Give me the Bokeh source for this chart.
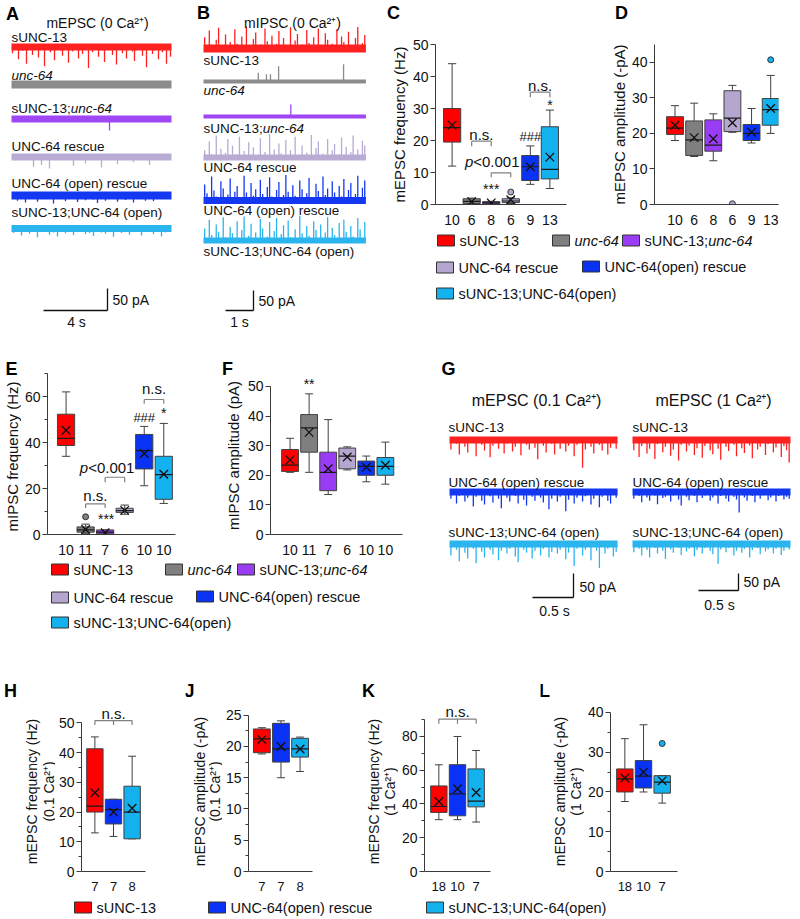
import numpy as np
from bokeh.plotting import figure
from bokeh.layouts import row, column
from bokeh.models import Range1d, FixedTicker, Label
from bokeh.embed import file_html
from bokeh.resources import INLINE

FONT = "Liberation Sans"
AX = "#3a3a3a"
EDGE = "#404040"

# ---------------- colours ----------------
RED, GRAY, PURPLE, LAVENDER, BLUE, CYAN = "#FF0000", "#7F7F7F", "#9B3CF5", "#B4A6CF", "#0A32F5", "#13B1EE"
T_RED, T_GRAY, T_PURPLE, T_LAV, T_BLUE, T_CYAN = "#FF2020", "#8C8C8C", "#A047F5", "#B8ABD4", "#1438F2", "#2BB5EE"
COLS6 = [RED, GRAY, PURPLE, LAVENDER, BLUE, CYAN]
COLS3 = [RED, BLUE, CYAN]

# ---------------- trace data (event amplitudes in pA, one value per time bin; 0 = no event) ----------------
A_SUNC13 = [14, 0, 5, 28, 0, 9, 0, 38, 4, 0, 18, 0, 7, 24, 0, 0, 44, 6, 0, 12, 0, 30, 3, 0, 8, 20, 0, 5, 36, 0,
            10, 0, 4, 26, 0, 16, 0, 6, 48, 0, 12, 3, 0, 22, 0, 8, 34, 0, 5, 0, 18, 0, 40, 7, 0, 14, 0, 26, 4, 0,
            10, 32, 0, 6, 0, 20, 0, 46, 3, 0, 16, 8, 0, 28, 0, 12, 0, 38, 5, 22]
A_UNC64 = [0, 3, 0, 5, 0, 0, 4, 0, 2, 0, 6, 0, 0, 3, 0, 0, 5, 0, 0, 4, 0, 7, 0, 0, 3, 0, 0, 5, 0, 2, 0, 0, 4, 0, 6, 0, 0, 3, 0, 0]
A_SUNC13_UNC64 = [0, 4, 0, 0, 6, 0, 3, 0, 0, 5, 0, 0, 4, 0, 7, 0, 0, 3, 0, 5, 0, 0, 4, 0, 26, 0, 0, 5, 0, 3, 0, 0, 6, 0, 0, 4, 0, 3, 0, 0]
A_RESCUE = [0, 3, 0, 0, 4, 22, 0, 18, 0, 26, 0, 4, 0, 0, 3, 20, 0, 0, 14, 0, 3, 0, 24, 0, 0, 4, 16, 0, 0, 3, 12, 0, 0, 4, 18, 0, 0, 3, 0, 5]
A_OPEN = [6, 12, 4, 16, 0, 3, 14, 7, 0, 5, 18, 6, 0, 13, 4, 8, 15, 0, 11, 3, 9, 17, 0, 12, 7, 4, 14, 0, 10, 6, 16, 5, 0, 12, 4, 13, 7, 0, 5, 8]
A_SUNC13_OPEN = [10, 4, 16, 0, 12, 3, 20, 8, 0, 14, 9, 18, 0, 11, 6, 15, 0, 3, 13, 10, 17, 0, 9, 12, 4, 19, 0, 10, 6, 14, 3, 0, 16, 5, 8, 13, 0, 18, 9, 4]

B_SUNC13 = [28, 0, 45, 10, 0, 22, 52, 0, 8, 35, 0, 16, 0, 48, 12, 0, 30, 0, 55, 6, 0, 24, 40, 0, 10, 0, 50, 18, 0, 32,
            0, 12, 44, 0, 26, 8, 0, 53, 0, 20, 36, 0, 10, 0, 46, 14, 0, 28, 0, 50, 6, 0, 38, 22, 0, 12, 0, 48, 0, 30,
            16, 0, 42, 8, 0, 26, 54, 0, 14, 34]
B_UNC64 = [0, 0, 2, 0, 0, 0, 0, 2, 0, 0, 0, 0, 0, 22, 0, 18, 18, 0, 38, 0, 0, 0, 2, 0, 0, 0, 0, 0, 0, 2, 0, 0, 0, 0, 43, 0, 0, 0, 0, 0]
B_SUNC13_UNC64 = [0, 0, 0, 2, 0, 0, 0, 0, 0, 0, 2, 0, 0, 0, 0, 0, 0, 0, 0, 0, 0, 30, 0, 0, 0, 0, 2, 0, 0, 0, 0, 0, 0, 0, 2, 0, 0, 0, 0, 0]
B_RESCUE = [18, 0, 40, 8, 0, 55, 0, 22, 0, 12, 46, 0, 30, 0, 8, 52, 0, 16, 0, 38, 0, 25, 6, 0, 48, 0, 14, 0, 58, 0,
            20, 0, 35, 10, 0, 44, 0, 18, 0, 52, 6, 0, 30, 0, 12, 0, 56, 0, 24, 40, 0, 10, 0, 46, 0, 18, 34, 0, 8, 50,
            0, 26, 0, 14, 55, 0, 20, 0, 42, 30]
B_OPEN = [40, 18, 0, 60, 25, 10, 0, 48, 30, 0, 15, 55, 0, 22, 36, 8, 0, 62, 20, 0, 44, 12, 28, 0, 52, 16, 0, 34, 58, 10,
          0, 26, 46, 0, 14, 64, 22, 0, 38, 12, 0, 50, 28, 0, 18, 56, 8, 0, 42, 24, 0, 60, 14, 30, 0, 48, 20, 0, 36, 10,
          54, 0, 26, 44, 0, 16, 62, 0, 32, 50]
B_SUNC13_OPEN = [30, 0, 52, 14, 0, 40, 22, 0, 58, 8, 0, 34, 18, 0, 48, 0, 26, 60, 0, 12, 42, 0, 20, 0, 54, 30, 0, 10, 46, 0,
                 24, 56, 0, 16, 38, 0, 50, 8, 0, 28, 0, 62, 18, 0, 36, 12, 0, 48, 26, 0, 40, 0, 20, 58, 0, 32, 14, 0, 44, 0,
                 52, 22, 0, 36, 10, 0, 56, 28, 0, 46]

GL_SUNC13 = [20, 0, 8, 30, 0, 14, 26, 0, 6, 34, 0, 10, 22, 0, 36, 12, 0, 18, 0, 28, 8, 0, 24, 14, 0, 32, 0, 10, 20, 0,
             16, 40, 0, 12, 26, 0, 8, 30, 0, 18, 0, 24, 12, 0, 34, 10, 0, 58, 20, 0, 14, 28, 0, 10, 22, 0, 30, 16, 0, 18]
GL_OPEN = [14, 0, 24, 8, 0, 20, 12, 0, 30, 10, 0, 18, 26, 0, 9, 22, 0, 14, 34, 0, 12, 20, 0, 8, 24, 0, 16, 28, 0, 10,
           18, 0, 12, 22, 0, 36, 14, 0, 20, 10, 0, 40, 16, 0, 24, 12, 0, 20, 9, 0, 26, 14, 0, 32, 10, 0, 18, 24, 0, 12]
GL_SUNC13_OPEN = [24, 0, 12, 36, 0, 18, 30, 0, 10, 40, 0, 16, 28, 0, 12, 22, 0, 34, 14, 0, 20, 10, 0, 26, 38, 0, 12, 18, 0, 30,
                  14, 0, 24, 10, 0, 28, 16, 0, 20, 12, 0, 32, 18, 0, 46, 10, 0, 24, 12, 0, 34, 0, 14, 50, 0, 20, 10, 0, 26, 16]
GR_SUNC13 = [30, 0, 50, 18, 0, 40, 26, 0, 56, 12, 0, 36, 20, 0, 46, 28, 0, 60, 14, 0, 34, 16, 0, 44, 24, 0, 52, 18, 0, 30,
             42, 0, 26, 58, 0, 20, 32, 0, 14, 48, 0, 24, 38, 0, 16, 54, 0, 28, 20, 0, 44, 12, 0, 36, 22, 0, 50, 18, 30, 66]
GR_OPEN = [20, 0, 12, 30, 0, 16, 26, 0, 10, 36, 0, 18, 14, 0, 28, 10, 0, 22, 40, 0, 14, 24, 0, 12, 30, 0, 18, 10, 0, 26,
           16, 0, 34, 12, 0, 20, 28, 0, 14, 22, 60, 0, 16, 26, 0, 12, 30, 0, 20, 10, 0, 24, 16, 0, 28, 12, 0, 22, 14, 20]
GR_SUNC13_OPEN = [24, 0, 14, 34, 0, 18, 40, 0, 12, 28, 0, 20, 44, 0, 16, 26, 0, 12, 32, 0, 22, 14, 0, 36, 18, 0, 28, 12, 0, 20,
                  30, 0, 58, 16, 0, 24, 12, 0, 34, 20, 0, 26, 14, 0, 40, 18, 0, 12, 30, 0, 22, 16, 0, 28, 14, 0, 32, 20, 0, 16]

# ---------------- box-plot data ----------------
C_N = ["10", "6", "8", "6", "9", "13"]
C_Q1 = [19.5, 0.3, 0.2, 0.6, 7.5, 8.0]
C_MED = [24.0, 1.0, 0.5, 1.1, 11.8, 11.0]
C_Q3 = [30.0, 1.8, 0.9, 1.8, 15.3, 24.3]
C_LO = [12.0, 0.0, 0.0, 0.3, 6.3, 5.0]
C_HI = [44.0, 2.0, 1.0, 2.1, 18.3, 29.5]
C_MEAN = [24.8, 0.9, 0.5, 1.5, 11.8, 14.8]
C_OUT_X, C_OUT_Y = [4], [3.9]

D_N = ["10", "6", "8", "6", "9", "13"]
D_Q1 = [19.7, 13.8, 15.0, 20.5, 18.0, 22.3]
D_MED = [21.5, 18.2, 16.7, 24.3, 20.0, 26.7]
D_Q3 = [24.7, 23.5, 23.8, 32.0, 22.5, 29.8]
D_LO = [18.0, 13.5, 12.3, 20.3, 17.3, 20.0]
D_HI = [27.8, 28.5, 25.5, 33.5, 27.0, 36.3]
D_MEAN = [22.3, 18.8, 18.5, 23.0, 20.3, 27.0]
D_OUT_X, D_OUT_Y = [4, 6], [0.2, 40.7]

E_N = ["10", "11", "7", "6", "10", "10"]
E_Q1 = [38.7, 1.0, 0.3, 9.6, 28.5, 15.3]
E_MED = [41.8, 2.0, 1.0, 10.4, 36.5, 26.0]
E_Q3 = [52.3, 3.3, 2.0, 11.4, 43.5, 34.0]
E_LO = [34.0, 0.5, 0.0, 8.8, 21.2, 13.5]
E_HI = [62.0, 4.5, 2.0, 12.8, 47.0, 48.3]
E_MEAN = [45.3, 2.2, 0.8, 10.5, 35.2, 26.2]
E_OUT_X, E_OUT_Y = [2], [7.7]

F_N = ["10", "11", "7", "6", "10", "10"]
F_Q1 = [21.3, 27.8, 14.8, 22.2, 20.0, 20.0]
F_MED = [23.4, 36.0, 21.0, 26.5, 23.0, 23.0]
F_Q3 = [28.7, 40.5, 27.8, 29.2, 24.8, 26.0]
F_LO = [21.0, 21.0, 13.5, 21.8, 17.8, 17.0]
F_HI = [32.5, 47.5, 38.8, 29.6, 26.5, 31.2]
F_MEAN = [25.2, 34.5, 22.2, 26.2, 22.7, 23.4]

H_N = ["7", "7", "8"]
H_Q1 = [20.0, 16.0, 11.0]
H_MED = [22.0, 20.8, 20.0]
H_Q3 = [41.3, 24.3, 28.7]
H_LO = [13.0, 11.8, 11.0]
H_HI = [45.3, 24.3, 38.8]
H_MEAN = [26.5, 20.0, 21.3]

J_N = ["7", "7", "8"]
J_Q1 = [19.0, 17.5, 18.3]
J_MED = [21.2, 19.6, 19.6]
J_Q3 = [22.8, 23.7, 21.3]
J_LO = [18.8, 15.0, 16.0]
J_HI = [23.0, 24.1, 21.5]
J_MEAN = [21.1, 20.0, 19.6]

K_N = ["18", "10", "7"]
K_Q1 = [35.0, 33.0, 38.3]
K_MED = [38.5, 46.0, 41.7]
K_Q3 = [50.7, 63.3, 60.8]
K_LO = [30.7, 30.7, 29.3]
K_HI = [63.2, 80.0, 71.7]
K_MEAN = [41.5, 49.0, 46.8]

L_N = ["18", "10", "7"]
L_Q1 = [20.0, 21.0, 19.7]
L_MED = [23.3, 24.0, 22.5]
L_Q3 = [25.8, 27.9, 24.1]
L_LO = [17.6, 20.0, 17.2]
L_HI = [33.4, 36.9, 24.1]
L_MEAN = [23.5, 25.0, 22.8]
L_OUT_X, L_OUT_Y = [3], [32.2]

CA = "Ca\u00b2\u207a"
PREFIX_EM = 4.389  # width of "sUNC-13;" in em (Arial metrics)


# ---------------- helpers ----------------
def style(p):
    p.outline_line_color = None
    p.background_fill_color = "white"
    p.border_fill_color = "white"


def txt(p, x, y, s, size="14px", align="left", fstyle="normal", base="middle", angle=0.0, color="#111111", xoff=0.0):
    p.add_layout(Label(x=x, y=y, text=s, text_font=FONT, text_font_size=size, text_align=align,
                       text_baseline=base, text_font_style=fstyle, angle=angle, text_color=color, x_offset=xoff))


def genotype(p, x, y, s, size_px):
    """Genotype label; the mutant allele 'unc-64' is set in italics."""
    size = "%gpx" % size_px
    if s == "unc-64":
        txt(p, x, y, s, size, fstyle="italic")
    elif s.endswith(";unc-64"):
        txt(p, x, y, s[:-6], size)
        txt(p, x, y, "unc-64", size, fstyle="italic", xoff=PREFIX_EM * size_px)
    else:
        txt(p, x, y, s, size)


def blank_fig(w, h, xr, yr):
    p = figure(width=w, height=h, x_range=xr, y_range=yr, x_axis_type=None, y_axis_type=None, title=None,
               output_backend="svg", toolbar_location=None,
               min_border_left=0, min_border_right=0, min_border_top=0, min_border_bottom=0)
    style(p)
    return p


def trace_fig(x0, y0, w, h, ox, pps, ppa):
    p = blank_fig(w, h, Range1d((x0 - ox) / pps, (x0 + w - ox) / pps), Range1d(0, h / ppa))
    X = lambda px: (px - ox) / pps
    Y = lambda py: (y0 + h - py) / ppa
    return p, X, Y


def pixel_fig(x0, y0, w, h):
    return blank_fig(w, h, Range1d(x0, x0 + w), Range1d(y0 + h, y0))


def draw_trace(p, amps, T, base, color, sign, band):
    a = np.asarray(amps, dtype=float)
    n = len(a)
    t = (np.arange(n) + 0.5) * T / n
    m = a > 0
    p.segment(x0=t[m], y0=np.full(int(m.sum()), base), x1=t[m], y1=base + sign * a[m],
              line_color=color, line_width=1.3)
    p.segment(x0=[0], y0=[base], x1=[T], y1=[base], line_color=color, line_width=band)


def scale_bar(p, t_end, dur, y_base, amp, sign=1):
    p.segment(x0=[t_end - dur, t_end], y0=[y_base, y_base], x1=[t_end, t_end], y1=[y_base, y_base + sign * amp],
              line_color="#111111", line_width=1.3)


def box_fig(x0, y0, w, h, axis_x, c1, sp, right_px, zero_py, ppu, top_val, axis_top, yticks, yminor,
            nlab, q1, med, q3, lo, hi, mean, cols, out_x=(), out_y=(), tick_size="14px", cat_size="14px"):
    lb = int(round(axis_x - x0))
    rb = int(round(x0 + w - right_px))
    tb = int(round(zero_py - top_val * ppu - y0))
    bb = int(round(y0 + h - zero_py))
    X = lambda px: 1 + (px - c1) / sp
    Y = lambda py: (zero_py - py) / ppu
    p = figure(width=w, height=h, x_range=Range1d(X(x0 + lb), X(x0 + w - rb)),
               y_range=Range1d(0, Y(y0 + tb)), title=None, output_backend="svg", toolbar_location=None,
               min_border_left=lb, min_border_right=rb, min_border_top=tb, min_border_bottom=bb)
    style(p)
    p.xgrid.visible = False
    p.ygrid.visible = False
    n = len(q1)
    x = np.arange(1, n + 1)
    bw, cw = 0.88, 0.42
    wk = dict(line_color=EDGE, line_width=1)
    p.segment(x0=x, y0=q3, x1=x, y1=hi, **wk)
    p.segment(x0=x, y0=lo, x1=x, y1=q1, **wk)
    p.segment(x0=x - cw / 2, y0=hi, x1=x + cw / 2, y1=hi, **wk)
    p.segment(x0=x - cw / 2, y0=lo, x1=x + cw / 2, y1=lo, **wk)
    p.quad(left=x - bw / 2, right=x + bw / 2, bottom=q1, top=q3, fill_color=list(cols), line_color=EDGE, line_width=1)
    p.segment(x0=x - bw / 2, y0=med, x1=x + bw / 2, y1=med, line_color="#1a1a1a", line_width=1.2)
    p.scatter(x=x, y=mean, marker="x", size=12, line_color="#111111", line_width=1.3)
    if len(out_x):
        p.scatter(x=list(out_x), y=list(out_y), marker="circle", size=6,
                  fill_color=[cols[i - 1] for i in out_x], line_color="#333333", line_width=1)
    xa, ya = p.xaxis[0], p.yaxis[0]
    xa.ticker = FixedTicker(ticks=[int(i) for i in x], minor_ticks=[])
    xa.major_label_overrides = {int(i): s for i, s in zip(x, nlab)}
    xa.major_tick_line_color = None
    xa.minor_tick_line_color = None
    xa.major_label_standoff = 4
    ya.ticker = FixedTicker(ticks=list(yticks), minor_ticks=list(yminor))
    ya.bounds = (0, axis_top)
    ya.major_tick_in = 0
    ya.major_tick_out = 5
    ya.minor_tick_in = 0
    ya.minor_tick_out = 3
    ya.major_tick_line_color = AX
    ya.minor_tick_line_color = AX
    ya.major_label_standoff = 2
    for ax, sz in ((xa, cat_size), (ya, tick_size)):
        ax.axis_line_color = AX
        ax.axis_line_width = 1
        ax.major_label_text_font = FONT
        ax.major_label_text_font_size = sz
        ax.major_label_text_color = "#111111"
    return p, X, Y


def gutter(x0, y0, w, h, split, letter_xy, letter_s, titles, size="15px"):
    """Strip left of a box plot: panel letter on top, rotated y-axis title below."""
    top = pixel_fig(x0, y0, w, split - y0)
    txt(top, letter_xy[0], letter_xy[1], letter_s, "18px", align="center", fstyle="bold", color="#000000")
    bot = pixel_fig(x0, split, w, y0 + h - split)
    for tx, ty, s in titles:
        txt(bot, tx, ty, s, size, align="center", angle=np.pi / 2)
    return column(top, bot)


def bracket(p, xs, y, drop, color="#808080"):
    p.segment(x0=[min(xs)], y0=[y], x1=[max(xs)], y1=[y], line_color=color, line_width=1.2)
    p.segment(x0=list(xs), y0=[y] * len(xs), x1=list(xs), y1=[y - drop] * len(xs), line_color=color, line_width=1.2)


def pval(p, x, y, size_px=15):
    total = 3.642 * size_px
    txt(p, x, y, "p", "%gpx" % size_px, fstyle="italic", xoff=-total / 2)
    txt(p, x, y, "<0.001", "%gpx" % size_px, xoff=-total / 2 + 0.556 * size_px)


def letter(p, x, y, s):
    txt(p, x, y, s, "18px", align="center", fstyle="bold", color="#000000")


def legend_fig(x0, y0, w, h, items, size_px=14.5):
    p = pixel_fig(x0, y0, w, h)
    for bx, by, col, label in items:
        p.quad(left=[bx], right=[bx + 17], top=[by - 5.5], bottom=[by + 5.5], fill_color=col,
               line_color="#333333", line_width=1)
        genotype(p, bx + 22, by, label, size_px)
    return p


# ================= Panel A =================
pA, XA, YA = trace_fig(0, 0, 195, 330, ox=11, pps=16, ppa=0.44)
TA = 10.0
letter(pA, XA(12), YA(13), "A")
txt(pA, XA(97), YA(22), "mEPSC (0 " + CA + ")", "14px", align="center")
A_rows = [("sUNC-13", A_SUNC13, T_RED, 37, 46.5, 7), ("unc-64", A_UNC64, T_GRAY, 75, 84, 8),
          ("sUNC-13;unc-64", A_SUNC13_UNC64, T_PURPLE, 108, 118.5, 7), ("UNC-64 rescue", A_RESCUE, T_LAV, 146, 156.5, 7),
          ("UNC-64 (open) rescue", A_OPEN, T_BLUE, 183, 195, 8), ("sUNC-13;UNC-64 (open)", A_SUNC13_OPEN, T_CYAN, 212, 228, 7)]
for lab, amps, col, ly, by, band in A_rows:
    genotype(pA, XA(11), YA(ly), lab, 13.5)
    draw_trace(pA, amps, TA, YA(by), col, -1, band)
scale_bar(pA, XA(107), 4.0, YA(310), 50.0)
txt(pA, XA(112), YA(299), "50 pA", "14px")
txt(pA, XA(76), YA(321), "4 s", "14px", align="center")

# ================= Panel B =================
pB, XB, YB = trace_fig(195, 0, 190, 330, ox=203, pps=28, ppa=0.4)
TB = 5.8
letter(pB, XB(203), YB(12), "B")
txt(pB, XB(292), YB(22), "mIPSC (0 " + CA + ")", "14px", align="center")
B_rows = [("sUNC-13", B_SUNC13, T_RED, 60, 48, 8), ("unc-64", B_UNC64, T_GRAY, 90, 81, 4),
          ("sUNC-13;unc-64", B_SUNC13_UNC64, T_PURPLE, 128, 116, 4), ("UNC-64 rescue", B_RESCUE, T_LAV, 167, 157, 6),
          ("UNC-64 (open) rescue", B_OPEN, T_BLUE, 210, 200, 7), ("sUNC-13;UNC-64 (open)", B_SUNC13_OPEN, T_CYAN, 251, 240, 6)]
for lab, amps, col, ly, by, band in B_rows:
    genotype(pB, XB(203), YB(ly), lab, 13.5)
    draw_trace(pB, amps, TB, YB(by), col, 1, band)
scale_bar(pB, XB(253), 1.0, YB(310), 50.0)
txt(pB, XB(258), YB(300), "50 pA", "14px")
txt(pB, XB(239), YB(321), "1 s", "14px", align="center")

# ================= Panel C =================
gC = gutter(385, 0, 24, 228, 30, (393, 12), "C", [(399, 124, "mEPSC frequency (Hz)")])
pC, XC, YC = box_fig(409, 0, 181, 228, axis_x=432, c1=449, sp=20, right_px=566, zero_py=204, ppu=3.2,
                     top_val=50, axis_top=50, yticks=[0, 10, 20, 30, 40, 50], yminor=[],
                     nlab=C_N, q1=C_Q1, med=C_MED, q3=C_Q3, lo=C_LO, hi=C_HI, mean=C_MEAN, cols=COLS6,
                     out_x=C_OUT_X, out_y=C_OUT_Y)
bracket(pC, [2, 3], 19.8, 1.6)
txt(pC, 2.5, YC(134), "n.s.", "15px", align="center")
bracket(pC, [3, 4], 9.9, 1.4)
pval(pC, XC(490), YC(161))
txt(pC, 3, YC(188), "***", "14px", align="center")
txt(pC, 5, YC(136), "###", "13px", align="center")
txt(pC, 6, YC(104), "*", "14px", align="center")
bracket(pC, [5, 6], 35.1, 1.6)
txt(pC, 5.5, YC(85), "n.s.", "15px", align="center")

# ================= Panel D =================
gD = gutter(590, 0, 38, 228, 30, (621, 12), "D", [(619, 124, "mEPSC amplitude (-pA)")])
pD, XD, YD = box_fig(628, 0, 172, 228, axis_x=651, c1=672, sp=19.6, right_px=778, zero_py=204, ppu=160 / 45,
                     top_val=45, axis_top=45, yticks=[0, 10, 20, 30, 40], yminor=[],
                     nlab=D_N, q1=D_Q1, med=D_MED, q3=D_Q3, lo=D_LO, hi=D_HI, mean=D_MEAN, cols=COLS6,
                     out_x=D_OUT_X, out_y=D_OUT_Y)

LCD = legend_fig(385, 228, 415, 102, [
    (437, 240, RED, "sUNC-13"), (552, 240, GRAY, "unc-64"), (622, 240, PURPLE, "sUNC-13;unc-64"),
    (436, 267, LAVENDER, "UNC-64 rescue"), (582, 266, BLUE, "UNC-64(open) rescue"),
    (436, 293, CYAN, "sUNC-13;UNC-64(open)")])

# ================= Panel E =================
gE = gutter(0, 330, 21, 228, 379, (11, 368), "E", [(12, 456, "mIPSC frequency (Hz)")])
pE, XE, YE = box_fig(21, 330, 174, 228, axis_x=44, c1=63, sp=20, right_px=175, zero_py=534, ppu=2.3,
                     top_val=70, axis_top=70, yticks=[0, 20, 40, 60], yminor=[10, 30, 50, 70],
                     nlab=E_N, q1=E_Q1, med=E_MED, q3=E_Q3, lo=E_LO, hi=E_HI, mean=E_MEAN, cols=COLS6,
                     out_x=E_OUT_X, out_y=E_OUT_Y)
bracket(pE, [2, 3], 13.3, 1.8)
txt(pE, 2.5, YE(495), "n.s.", "15px", align="center")
bracket(pE, [3, 4], 24.9, 2.2)
pval(pE, XE(105), YE(467))
txt(pE, XE(104), YE(518), "***", "14px", align="center")
txt(pE, 5, YE(417), "###", "13px", align="center")
txt(pE, 6, YE(412), "*", "14px", align="center")
bracket(pE, [5, 6], 58.7, 1.9)
txt(pE, 5.5, YE(388), "n.s.", "15px", align="center")

# ================= Panel F =================
gF = gutter(195, 330, 49, 228, 379, (227, 368), "F", [(233, 455, "mIPSC amplitude (pA)")])
pF, XF, YF = box_fig(244, 330, 161, 228, axis_x=267, c1=287, sp=19.5, right_px=402, zero_py=534, ppu=3.2,
                     top_val=54.4, axis_top=50, yticks=[0, 10, 20, 30, 40, 50], yminor=[],
                     nlab=F_N, q1=F_Q1, med=F_MED, q3=F_Q3, lo=F_LO, hi=F_HI, mean=F_MEAN, cols=COLS6)
txt(pF, 2, YF(371), "**", "14px", align="center")

LEF = legend_fig(0, 558, 405, 122, [
    (51, 569, RED, "sUNC-13"), (165, 569, GRAY, "unc-64"), (237, 569, PURPLE, "sUNC-13;unc-64"),
    (51, 597, LAVENDER, "UNC-64 rescue"), (196, 596, BLUE, "UNC-64(open) rescue"),
    (51, 622, CYAN, "sUNC-13;UNC-64(open)")])

# ================= Panel G =================
pGL, XGL, YGL = trace_fig(405, 330, 217, 350, ox=449, pps=82, ppa=0.48)
letter(pGL, XGL(448), YGL(368), "G")
txt(pGL, XGL(536), YGL(400), "mEPSC (0.1 " + CA + ")", "16px", align="center")
TGL = 2.05
for lab, amps, col, ly, by in [("sUNC-13", GL_SUNC13, T_RED, 427, 439.5), ("UNC-64 (open) rescue", GL_OPEN, T_BLUE, 482, 491.5),
                               ("sUNC-13;UNC-64 (open)", GL_SUNC13_OPEN, T_CYAN, 532, 543.5)]:
    genotype(pGL, XGL(448), YGL(ly), lab, 13.5)
    draw_trace(pGL, amps, TGL, YGL(by), col, -1, 7)
scale_bar(pGL, XGL(573), 0.5, YGL(597), 50.0)
txt(pGL, XGL(579), YGL(586), "50 pA", "14px")
txt(pGL, XGL(554), YGL(610), "0.5 s", "14px", align="center")

pGR, XGR, YGR = trace_fig(622, 330, 178, 350, ox=632, pps=80, ppa=0.34)
txt(pGR, XGR(713), YGR(400), "mEPSC (1 " + CA + ")", "16px", align="center")
TGR = 1.975
for lab, amps, col, ly, by in [("sUNC-13", GR_SUNC13, T_RED, 427, 439.5), ("UNC-64 (open) rescue", GR_OPEN, T_BLUE, 482, 491.5),
                               ("sUNC-13;UNC-64 (open)", GR_SUNC13_OPEN, T_CYAN, 532, 543.5)]:
    genotype(pGR, XGR(632), YGR(ly), lab, 13.5)
    draw_trace(pGR, amps, TGR, YGR(by), col, -1, 7)
scale_bar(pGR, XGR(738), 0.5, YGR(590), 50.0)
txt(pGR, XGR(743), YGR(581), "50 pA", "14px")
txt(pGR, XGR(719), YGR(604), "0.5 s", "14px", align="center")

# ================= Panels H, J, K, L =================
gH = gutter(0, 680, 55, 213, 703, (10, 690), "H", [(31, 791, "mEPSC frequency (Hz)"), (48, 791, "(0.1 " + CA + ")")], "14px")
pH, XH, YH = box_fig(55, 680, 130, 213, axis_x=78, c1=92, sp=19.5, right_px=145, zero_py=872, ppu=3.2,
                     top_val=57, axis_top=50, yticks=[0, 10, 20, 30, 40, 50], yminor=[5, 15, 25, 35, 45],
                     nlab=H_N, q1=H_Q1, med=H_MED, q3=H_Q3, lo=H_LO, hi=H_HI, mean=H_MEAN, cols=COLS3,
                     cat_size="13px")
bracket(pH, [1, 2, 3], 50.8, 1.5)
txt(pH, 2, YH(702), "n.s.", "15px", align="center")

gJ = gutter(185, 680, 37, 213, 703, (189, 690), "J", [(199, 791, "mEPSC amplitude (-pA)"), (214, 791, "(0.1 " + CA + ")")], "14px")
pJ, XJ, YJ = box_fig(222, 680, 136, 213, axis_x=245, c1=259, sp=20, right_px=312, zero_py=872, ppu=6.4,
                     top_val=27, axis_top=25, yticks=[0, 5, 10, 15, 20, 25], yminor=[2.5, 7.5, 12.5, 17.5, 22.5],
                     nlab=J_N, q1=J_Q1, med=J_MED, q3=J_Q3, lo=J_LO, hi=J_HI, mean=J_MEAN, cols=COLS3,
                     cat_size="13px")

gK = gutter(358, 680, 40, 213, 703, (368, 690), "K", [(373, 791, "mEPSC frequency (Hz)"), (389, 791, "(1 " + CA + ")")], "14px")
pK, XK, YK = box_fig(398, 680, 142, 213, axis_x=421, c1=436, sp=19.5, right_px=490, zero_py=872, ppu=160 / 90,
                     top_val=100, axis_top=90, yticks=[0, 20, 40, 60, 80], yminor=[10, 30, 50, 70, 90],
                     nlab=K_N, q1=K_Q1, med=K_MED, q3=K_Q3, lo=K_LO, hi=K_HI, mean=K_MEAN, cols=COLS3,
                     cat_size="13px")
bracket(pK, [1, 2, 3], 90.3, 2.8)
txt(pK, 2, YK(703), "n.s.", "15px", align="center")

gL = gutter(540, 680, 44, 213, 703, (544, 690), "L", [(559, 791, "mEPSC amplitude (-pA)"), (575, 791, "(1 " + CA + ")")], "14px")
pL, XL, YL = box_fig(584, 680, 216, 213, axis_x=607, c1=622, sp=19.5, right_px=677, zero_py=872, ppu=4.0,
                     top_val=42.5, axis_top=40, yticks=[0, 10, 20, 30, 40], yminor=[5, 15, 25, 35],
                     nlab=L_N, q1=L_Q1, med=L_MED, q3=L_Q3, lo=L_LO, hi=L_HI, mean=L_MEAN, cols=COLS3,
                     out_x=L_OUT_X, out_y=L_OUT_Y, cat_size="13px")

LBOT = legend_fig(0, 893, 800, 26, [
    (74, 907, RED, "sUNC-13"), (208, 907, BLUE, "UNC-64(open) rescue"), (426, 907, CYAN, "sUNC-13;UNC-64(open)")])

# ================= layout =================
row1 = row(pA, pB, column(row(gC, pC, gD, pD), LCD))
row2 = row(column(row(gE, pE, gF, pF), LEF), pGL, pGR)
row3 = row(gH, pH, gJ, pJ, gK, pK, gL, pL)
p = column(row1, row2, row3, LBOT)

open("out.html", "w").write(file_html(p, INLINE))
